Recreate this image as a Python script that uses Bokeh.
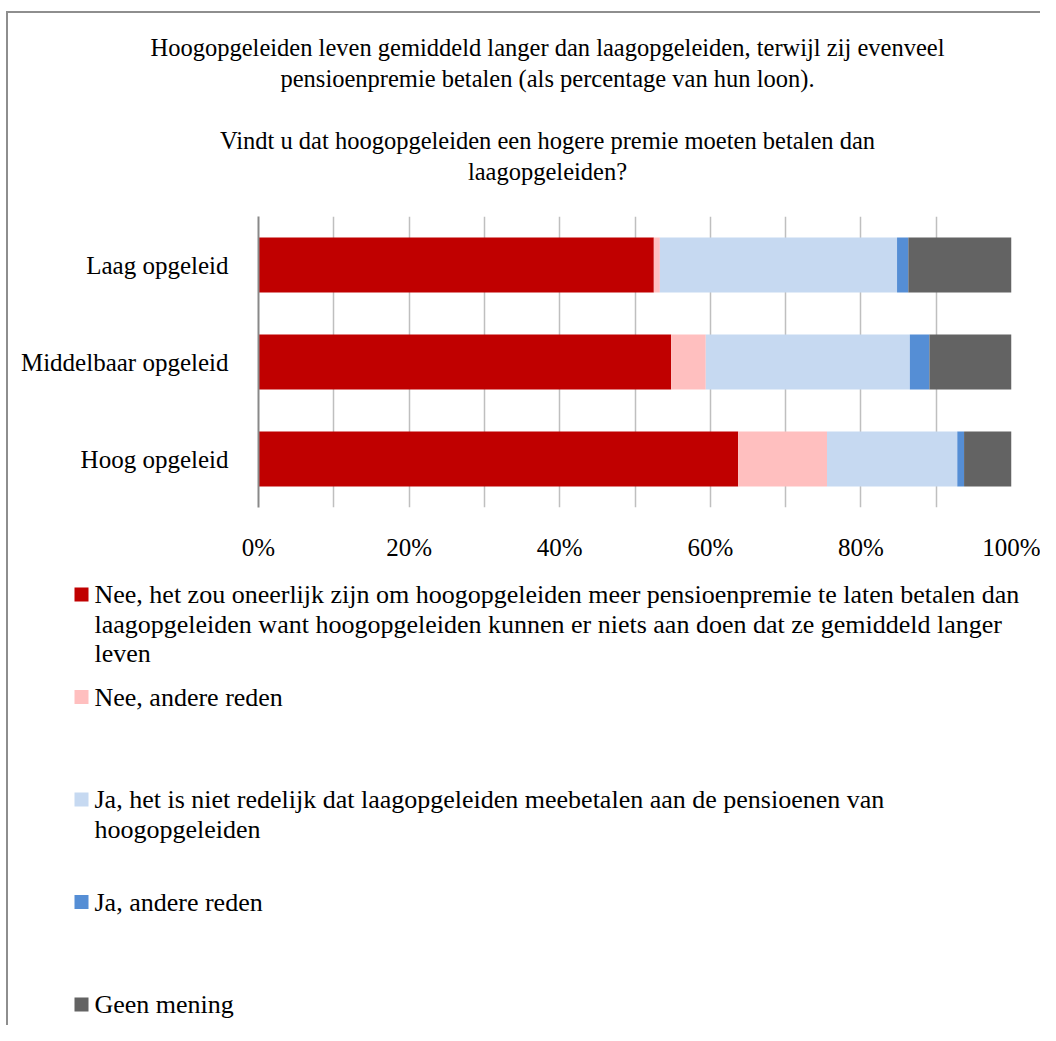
from bokeh.plotting import figure
from bokeh.layouts import column
from bokeh.models import Range1d, FixedTicker, ColumnDataSource
from bokeh.core.properties import value
from bokeh.embed import file_html
from bokeh.resources import INLINE

# ---------------- data ----------------
categories = ["Hoog opgeleid", "Middelbaar opgeleid", "Laag opgeleid"]
nee_oneerlijk = [63.7, 54.8, 52.5]
nee_andere = [11.8, 4.6, 0.8]
ja_niet_redelijk = [17.3, 27.1, 31.5]
ja_andere = [0.9, 2.6, 1.5]
geen_mening = [6.3, 10.9, 13.7]

series_keys = ["nee_oneerlijk", "nee_andere", "ja_niet_redelijk", "ja_andere", "geen_mening"]
series_colors = ["#C00000", "#FFBFBF", "#C6D9F1", "#558ED5", "#636363"]
legend_labels = [
    ["Nee, het zou oneerlijk zijn om hoogopgeleiden meer pensioenpremie te laten betalen dan",
     "laagopgeleiden want hoogopgeleiden kunnen er niets aan doen dat ze gemiddeld langer",
     "leven"],
    ["Nee, andere reden"],
    ["Ja, het is niet redelijk dat laagopgeleiden meebetalen aan de pensioenen van",
     "hoogopgeleiden"],
    ["Ja, andere reden"],
    ["Geen mening"],
]
title_lines = [
    "Hoogopgeleiden leven gemiddeld langer dan laagopgeleiden, terwijl zij evenveel",
    "pensioenpremie betalen (als percentage van hun loon).",
    "",
    "Vindt u dat hoogopgeleiden een hogere premie moeten betalen dan",
    "laagopgeleiden?",
]
x_tick_values = [0, 20, 40, 60, 80, 100]
x_tick_labels = ["0%", "20%", "40%", "60%", "80%", "100%"]
grid_values = [0, 10, 20, 30, 40, 50, 60, 70, 80, 90, 100]

FONT = "Liberation Serif"
W = 1040
H_TITLE, H_BARS = 208, 361
H_LEG = 1025 - H_TITLE - H_BARS
BORDER = "#8E8E8E"


def blank_fig(h):
    f = figure(width=W, height=h, x_range=Range1d(0, W), y_range=Range1d(h, 0),
               output_backend="svg", toolbar_location=None, min_border=0,
               x_axis_type=None, y_axis_type=None, frame_align=False)
    f.grid.visible = False
    f.outline_line_color = None
    f.background_fill_color = None
    f.border_fill_color = None
    return f


# ---------------- title figure ----------------
pt = blank_fig(H_TITLE)
pt.text(x=[547] * len(title_lines), y=[47 + 31 * k for k in range(len(title_lines))],
        text=title_lines, text_font=value(FONT), text_font_size=value("24.5px"),
        text_align="center", text_baseline="middle", text_color="#000000")

# ---------------- bar figure ----------------
cat_pos = list(range(1, len(categories) + 1))
src = ColumnDataSource(dict(pos=cat_pos, nee_oneerlijk=nee_oneerlijk, nee_andere=nee_andere,
                            ja_niet_redelijk=ja_niet_redelijk, ja_andere=ja_andere,
                            geen_mening=geen_mening))
p = figure(width=W, height=H_BARS, y_range=Range1d(0.5, len(categories) + 0.5),
           x_range=Range1d(0, 100), output_backend="svg", toolbar_location=None,
           min_border_left=258, min_border_right=29, min_border_top=8, min_border_bottom=62,
           frame_align=False)
p.hbar_stack(series_keys, y="pos", height=0.567, color=series_colors, line_color=None, source=src)
p.outline_line_color = None
p.background_fill_color = None
p.border_fill_color = None
p.ygrid.visible = False
p.xgrid.ticker = FixedTicker(ticks=grid_values)
p.xgrid.grid_line_color = "#BFBFBF"
p.xgrid.grid_line_width = 1.5
p.xaxis.ticker = FixedTicker(ticks=x_tick_values)
p.xaxis.major_label_overrides = dict(zip(x_tick_values, x_tick_labels))
p.xaxis.axis_line_color = None
p.xaxis.major_tick_line_color = None
p.xaxis.minor_tick_line_color = None
p.xaxis.major_label_standoff = 20
p.yaxis.ticker = FixedTicker(ticks=cat_pos)
p.yaxis.major_label_overrides = dict(zip(cat_pos, categories))
p.yaxis.axis_line_color = "#898989"
p.yaxis.axis_line_width = 2
p.yaxis.major_tick_line_color = None
p.yaxis.minor_tick_line_color = None
p.yaxis.major_label_standoff = 24
for ax in (p.xaxis, p.yaxis):
    ax.major_label_text_font = FONT
    ax.major_label_text_font_size = "25px"
    ax.major_label_text_color = "#000000"

# ---------------- legend figure ----------------
pl = blank_fig(H_LEG)
sq_y, tx, ty, tt = [], [], [], []
for i, lines in enumerate(legend_labels):
    yc = 25 + 102.5 * i
    sq_y.append(yc)
    for j, ln in enumerate(lines):
        tx.append(94)
        ty.append(yc + 29.5 * j)
        tt.append(ln)
pl.scatter(x=[81] * len(sq_y), y=sq_y, marker="square", size=14, color=series_colors, line_color=None)
pl.text(x=tx, y=ty, text=tt, text_font=value(FONT), text_font_size=value("26px"),
        text_align="left", text_baseline="middle", text_color="#000000")

layout = column(pt, p, pl, spacing=0, styles={
    "background-color": "#FFFFFF",
    "background-image": f"linear-gradient({BORDER}, {BORDER}), linear-gradient({BORDER}, {BORDER})",
    "background-size": "2px 100%, 100% 2px",
    "background-position": "6px 11px, 6px 11px",
    "background-repeat": "no-repeat",
})

open("out.html", "w").write(file_html(layout, INLINE))
